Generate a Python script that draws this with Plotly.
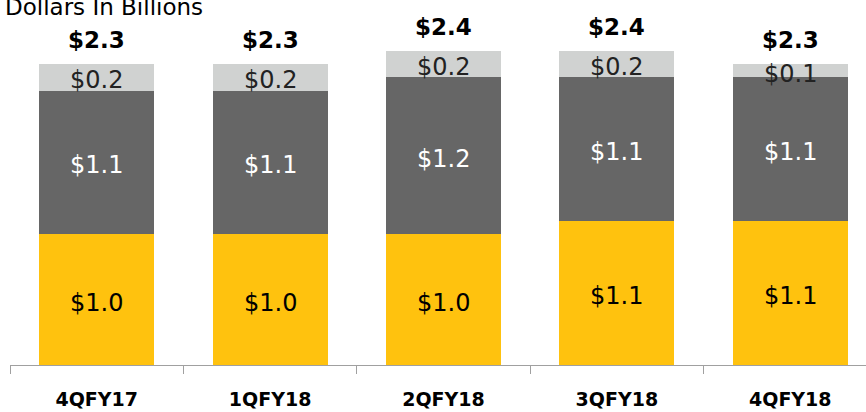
"""
Quarterly stacked bars, dollars in billions.
"""

import numpy as np
import plotly.graph_objects as go

quarters = ['4QFY17', '1QFY18', '2QFY18', '3QFY18', '4QFY18']
base_vals = [1.0, 1.0, 1.0, 1.1, 1.1]
middle_vals = [1.1, 1.1, 1.2, 1.1, 1.1]
top_vals = [0.2, 0.2, 0.2, 0.2, 0.1]
totals = [2.3, 2.3, 2.4, 2.4, 2.3]

FONT = 'DejaVu Sans'
YELLOW = '#FFC20E'
DARK_GREY = '#666666'
LIGHT_GREY = '#D0D2D1'

fig = go.Figure()

# Stacked segments
for vals, color in [(base_vals, YELLOW), (middle_vals, DARK_GREY), (top_vals, LIGHT_GREY)]:
    fig.add_trace(go.Bar(
        x=quarters, y=vals, marker_color=color, marker_line_width=0,
        showlegend=False, hoverinfo='skip',
    ))

# Segment labels at the middle of each segment
bottoms = np.zeros(len(quarters))
for vals, text_color in [(base_vals, '#000000'), (middle_vals, '#FFFFFF'), (top_vals, '#222222')]:
    for q, b, v in zip(quarters, bottoms, vals):
        fig.add_annotation(
            x=q, y=b + v / 2, text=f'${v:.1f}', showarrow=False,
            yanchor='middle', yshift=-3,
            font=dict(family=FONT, size=24, color=text_color),
        )
    bottoms = bottoms + np.array(vals)

# Bold totals above each bar
for q, t in zip(quarters, totals):
    fig.add_annotation(
        x=q, y=t, text=f'<b>${t:.1f}</b>', showarrow=False,
        yanchor='middle', yshift=24,
        font=dict(family=FONT, size=23, color='#000000'),
    )

fig.add_annotation(
    xref='paper', yref='paper', x=0, y=1, xanchor='left', yanchor='middle',
    xshift=-7, yshift=-7, text='Dollars In Billions', showarrow=False,
    font=dict(family=FONT, size=23, color='#000000'),
)

fig.update_layout(
    width=866, height=412, barmode='stack', bargap=0.337,
    margin=dict(l=10, r=0, t=0, b=47),
    plot_bgcolor='white', paper_bgcolor='white',
    font=dict(family=FONT, color='#000000'),
)
fig.update_xaxes(
    range=[-0.5, 4.4366], showgrid=False, showline=True, linecolor='#A0A0A0', linewidth=1,
    ticks='outside', tickson='boundaries', ticklen=8, tickcolor='#A0A0A0',
    tickfont=dict(family=FONT, size=19, color='#000000'), tickprefix='<b>', ticksuffix='</b>',
    ticklabelstandoff=17,
)
fig.update_yaxes(visible=False, range=[0, 2.7927], showgrid=False)

# drop the default body margin so the figure sits at the window's corner
fig.write_html(
    'out.html', config={'displayModeBar': False},
    post_script="document.body.style.margin = '0';",
)
